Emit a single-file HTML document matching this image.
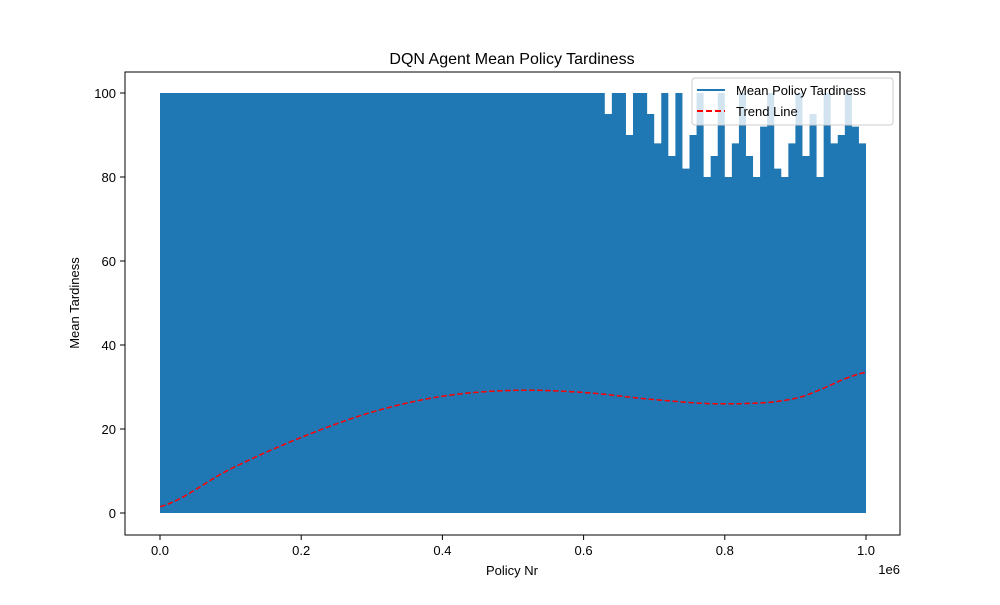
<!DOCTYPE html>
<html><head><meta charset="utf-8"><style>
body{margin:0;background:#fff;}
svg text{font-family:"Liberation Sans","DejaVu Sans",sans-serif;}
</style></head><body>
<svg id="chart" width="1000" height="600">
<rect width="1000" height="600" fill="#fff"/>
<g id="plot"></g>
<rect x="125" y="72" width="775" height="463" fill="none" stroke="#000" stroke-width="1"/>
<g id="axes"></g>
<text x="512" y="64" font-size="16" text-anchor="middle">DQN Agent Mean Policy Tardiness</text>
<text x="512" y="575" font-size="13" text-anchor="middle">Policy Nr</text>
<text x="79" y="303" font-size="13" text-anchor="middle" transform="rotate(-90 79 303)">Mean Tardiness</text>
<text x="900" y="574" font-size="13" text-anchor="end">1e6</text>
<g>
<rect x="692" y="78" width="201" height="47" rx="3" fill="#fff" fill-opacity="0.8" stroke="#ccc"/>
<line x1="697" y1="90" x2="725" y2="90" stroke="#1f77b4" stroke-width="2"/>
<text x="736" y="95" font-size="13">Mean Policy Tardiness</text>
<line x1="697" y1="111" x2="725" y2="111" stroke="red" stroke-width="2" stroke-dasharray="6,3"/>
<text x="736" y="116" font-size="13">Trend Line</text>
</g>
</svg>
<script>
const binMax = [100,100,100,100,100,100,100,100,100,100,100,100,100,100,100,100,100,100,100,100,
100,100,100,100,100,100,100,100,100,100,100,100,100,100,100,100,100,100,100,100,
100,100,100,100,100,100,100,100,100,100,100,100,100,100,100,100,100,100,100,100,
100,100,100,95,100,100,90,100,100,95,
88,100,85,100,82,90,100,80,85,100,
80,88,100,85,80,92,100,82,80,88,
100,85,95,80,100,88,90,100,92,88];
const trendX = [0,0.1,0.2,0.3,0.4,0.5,0.6,0.7,0.8,0.9,1.0];
const trendY = [1.5,10.5,18,24,27.8,29.2,28.7,27,26,27.3,33.5];
const xTicks = [0,0.2,0.4,0.6,0.8,1.0];
const xTickLabels = ["0.0","0.2","0.4","0.6","0.8","1.0"];
const yTicks = [0,20,40,60,80,100];

const NS="http://www.w3.org/2000/svg";
const xs = v => 160 + v*706;
const ys = v => 513 - v*4.2;
const plot=document.getElementById('plot'), axes=document.getElementById('axes');
function mk(tag, attrs, parent){const e=document.createElementNS(NS,tag);for(const k in attrs)e.setAttribute(k,attrs[k]);parent.appendChild(e);return e;}

let d = `M${xs(0)},${ys(0)}`;
const n = binMax.length;
binMax.forEach((v,i)=>{d+=` L${xs(i/n)},${ys(v)} L${xs((i+1)/n)},${ys(v)}`;});
d += ` L${xs(1)},${ys(0)} Z`;
const area = mk('path',{d:d,fill:'#1f77b4'},plot);



let pts=[];
for(let k=0;k<=200;k++){
  const t=k/200; let i=Math.min(Math.floor(t*10),9); const f=(t-trendX[i])/(trendX[i+1]-trendX[i]);
  const p0=trendY[Math.max(i-1,0)],p1=trendY[i],p2=trendY[i+1],p3=trendY[Math.min(i+2,10)];
  const y=0.5*((2*p1)+(-p0+p2)*f+(2*p0-5*p1+4*p2-p3)*f*f+(-p0+3*p1-3*p2+p3)*f*f*f);
  pts.push(xs(t).toFixed(1)+','+ys(y).toFixed(1));
}
const tl = mk('polyline',{points:pts.join(' '),fill:'none',stroke:'red','stroke-width':1.5,'stroke-dasharray':'5.5,2.5'},plot);



xTicks.forEach((v,i)=>{
  const t=mk('line',{x1:xs(v),x2:xs(v),y1:535,y2:540,stroke:'#000'},axes);
  
  
  const l=mk('text',{x:xs(v),y:555,'font-size':13,'text-anchor':'middle'},axes);l.textContent=xTickLabels[i];
  
  
});
yTicks.forEach(v=>{
  const t=mk('line',{x1:120,x2:125,y1:ys(v),y2:ys(v),stroke:'#000'},axes);
  
  
  const l=mk('text',{x:116,y:ys(v)+5,'font-size':13,'text-anchor':'end'},axes);l.textContent=v;
  
  
});
</script>
</body></html>
